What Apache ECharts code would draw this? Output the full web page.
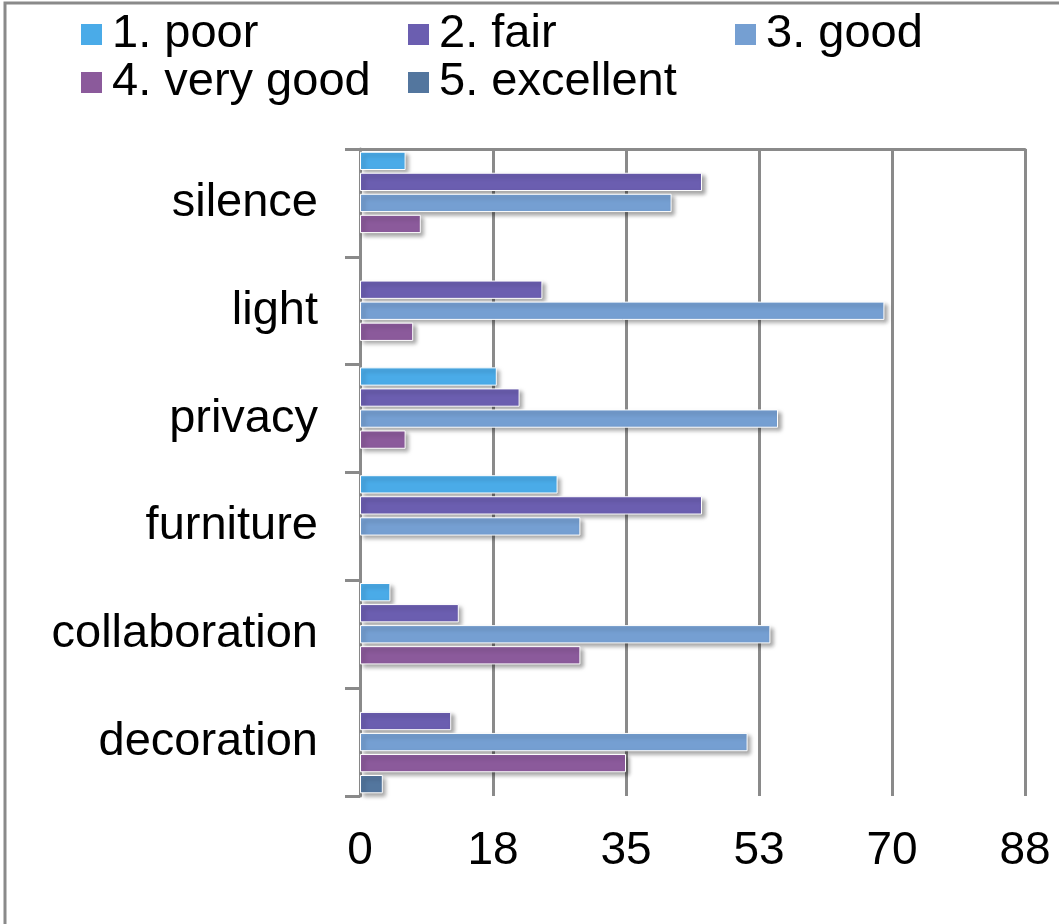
<!DOCTYPE html>
<html>
<head>
<meta charset="utf-8">
<script src="https://cdn.jsdelivr.net/npm/echarts@6/dist/echarts.min.js"></script>
<style>
  html, body { margin: 0; padding: 0; background: #fff; }
  #chart-container { width: 1059px; height: 924px; }
</style>
</head>
<body>
<div id="chart-container"></div>
<script>
var dom = document.getElementById('chart-container');
var myChart = echarts.init(dom, null, { renderer: 'canvas' });

// data (null = no bar)
var categories = ['silence', 'light', 'privacy', 'furniture', 'collaboration', 'decoration'];
var seriesNames = ['1. poor', '2. fair', '3. good', '4. very good', '5. excellent'];
var poor = [6, null, 18, 26, 4, null];
var fair = [45, 24, 21, 45, 13, 12];
var good = [41, 69, 55, 29, 54, 51];
var veryGood = [8, 7, 6, null, 29, 35];
var excellent = [null, null, null, null, null, 3];
var colors = ['#4aabe8', '#6b5eb0', '#759fd2', '#8b5a9b', '#53769e'];

var values = [poor, fair, good, veryGood, excellent];
var font = 'Liberation Sans, Arial, sans-serif';
var gray = '#8a8a8a';

// legend positions like the original (one legend per item)
var legendPos = [[76, 6], [403, 6], [730, 6], [76, 54], [403, 54]];

var option = {
  animation: false,
  color: colors,
  graphic: [
    {
      type: 'rect',
      shape: { x: 5, y: 3, width: 1200, height: 1200 },
      style: { fill: 'none', stroke: gray, lineWidth: 3 }
    }
  ],
  legend: seriesNames.map(function (name, i) {
    return {
      data: [name],
      left: legendPos[i][0],
      top: legendPos[i][1],
      icon: 'rect',
      itemWidth: 21,
      itemHeight: 21,
      itemStyle: { borderWidth: 0 },
      textStyle: {
        fontFamily: font,
        fontSize: 47,
        color: '#000',
        padding: [0, 0, 0, 5]
      }
    };
  }),
  grid: {
    left: 360,
    right: 34,
    top: 149,
    bottom: 128
  },
  xAxis: [
    {
      type: 'value',
      min: 0,
      max: 87.5,
      interval: 17.5,
      position: 'bottom',
      axisLine: { show: false },
      axisTick: { show: false },
      axisLabel: {
        margin: 32,
        fontFamily: font,
        fontSize: 46,
        color: '#000',
        formatter: function (v) { return Math.round(v); }
      },
      splitLine: { show: true, lineStyle: { color: gray, width: 3 } }
    },
    {
      type: 'value',
      min: 0,
      max: 87.5,
      interval: 17.5,
      position: 'top',
      axisLine: { show: true, lineStyle: { color: gray, width: 3 } },
      axisTick: { show: false },
      axisLabel: { show: false },
      splitLine: { show: false }
    }
  ],
  yAxis: {
    type: 'category',
    data: categories,
    inverse: true,
    axisLine: { show: true, lineStyle: { color: gray, width: 3 } },
    axisTick: { show: true, length: 15, lineStyle: { color: gray, width: 3 } },
    axisLabel: {
      margin: 42,
      fontFamily: font,
      fontSize: 47,
      color: '#000'
    }
  },
  series: seriesNames.map(function (name, i) {
    return {
      name: name,
      type: 'bar',
      data: values[i],
      barGap: '15%',
      barCategoryGap: '5%',
      itemStyle: {
        borderColor: '#fff',
        borderWidth: 1,
        shadowColor: 'rgba(0,0,0,0.35)',
        shadowBlur: 4,
        shadowOffsetX: 3,
        shadowOffsetY: 3
      }
    };
  })
};

myChart.setOption(option);
window.addEventListener('resize', myChart.resize);
</script>
</body>
</html>
